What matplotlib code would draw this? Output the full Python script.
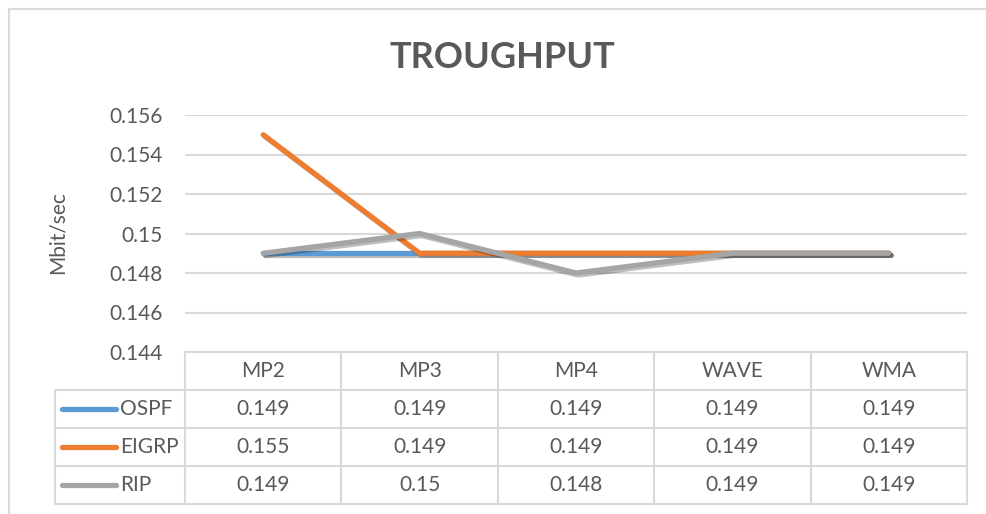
import matplotlib.pyplot as plt
import matplotlib.patheffects as pe
from matplotlib.lines import Line2D

categories = ["MP2", "MP3", "MP4", "WAVE", "WMA"]
ospf = [0.149, 0.149, 0.149, 0.149, 0.149]
eigrp = [0.155, 0.149, 0.149, 0.149, 0.149]
rip = [0.149, 0.15, 0.148, 0.149, 0.149]
series_names = ["OSPF", "EIGRP", "RIP"]
series_colors = ["#5B9BD5", "#ED7D31", "#A5A5A5"]
yticks = [0.144, 0.146, 0.148, 0.15, 0.152, 0.154, 0.156]

plt.rcParams['font.family'] = ['Lato', 'DejaVu Sans']
txt = "#595959"
grid = "#D9D9D9"
fs = 15

W, H = 986, 514
fig = plt.figure(figsize=(W / 100, H / 100), dpi=100)

def fx(px):
    return px / W

def fy(py):
    return 1 - py / H

# chart border (partially cropped)
fig.add_artist(Line2D([fx(9), fx(9)], [fy(9), fy(520)], color=grid, lw=1.5))
fig.add_artist(Line2D([fx(9), fx(990)], [fy(9), fy(9)], color=grid, lw=1.5))

x0, x1 = 185, 967
ytop, ybot = 115, 352
ax = fig.add_axes([fx(x0), fy(ybot), fx(x1 - x0), (ybot - ytop) / H])
ax.set_xlim(-0.5, len(categories) - 0.5)
ax.set_ylim(0.144, 0.156)
ax.set_yticks(yticks)
ax.set_yticklabels([f"{v:g}" for v in yticks], color=txt, fontsize=fs)
ax.tick_params(axis='y', length=0, pad=16)
ax.set_xticks([])
for s in ax.spines.values():
    s.set_visible(False)
ax.grid(axis='y', color=grid, lw=1.5)
ax.set_axisbelow(True)

shadow = [pe.SimpleLineShadow(offset=(1.5, -1.5), shadow_color='k', alpha=0.25),
          pe.Normal()]
for vals, c in zip([ospf, eigrp, rip], series_colors):
    ax.plot(range(len(categories)), vals, color=c, lw=3.8,
            solid_capstyle='round', solid_joinstyle='miter',
            path_effects=shadow, clip_on=False)

fig.text(fx(58), fy(233), "Mbit/sec", rotation=90, ha='center', va='center',
         color=txt, fontsize=fs)
fig.text(fx(502), fy(57), "TROUGHPUT", ha='center', va='center',
         color=txt, fontsize=26, fontweight='bold')

# data table
col_w = (x1 - x0) / len(categories)
rows = [352, 390, 428, 466, 504]
legx = 55
fig.add_artist(Line2D([fx(x0), fx(x1)], [fy(rows[0])] * 2, color=grid, lw=1.5))
for r in rows[1:]:
    fig.add_artist(Line2D([fx(legx), fx(x1)], [fy(r)] * 2, color=grid, lw=1.5))
fig.add_artist(Line2D([fx(legx)] * 2, [fy(rows[1]), fy(rows[-1])], color=grid, lw=1.5))
for i in range(len(categories) + 1):
    xx = x0 + i * col_w
    fig.add_artist(Line2D([fx(xx)] * 2, [fy(rows[0]), fy(rows[-1])], color=grid, lw=1.5))

for i, cat in enumerate(categories):
    cx = x0 + (i + 0.5) * col_w
    fig.text(fx(cx), fy((rows[0] + rows[1]) / 2), cat, ha='center', va='center',
             color=txt, fontsize=fs)

for j, (name, vals, c) in enumerate(zip(series_names, [ospf, eigrp, rip], series_colors)):
    cy = (rows[j + 1] + rows[j + 2]) / 2
    fig.add_artist(Line2D([fx(62), fx(116)], [fy(cy)] * 2, color=c, lw=3.8,
                          solid_capstyle='round'))
    fig.text(fx(120), fy(cy), name, ha='left', va='center', color=txt, fontsize=fs)
    for i, v in enumerate(vals):
        cx = x0 + (i + 0.5) * col_w
        fig.text(fx(cx), fy(cy), f"{v:g}", ha='center', va='center',
                 color=txt, fontsize=fs)

fig.savefig("out.png", dpi=100)
